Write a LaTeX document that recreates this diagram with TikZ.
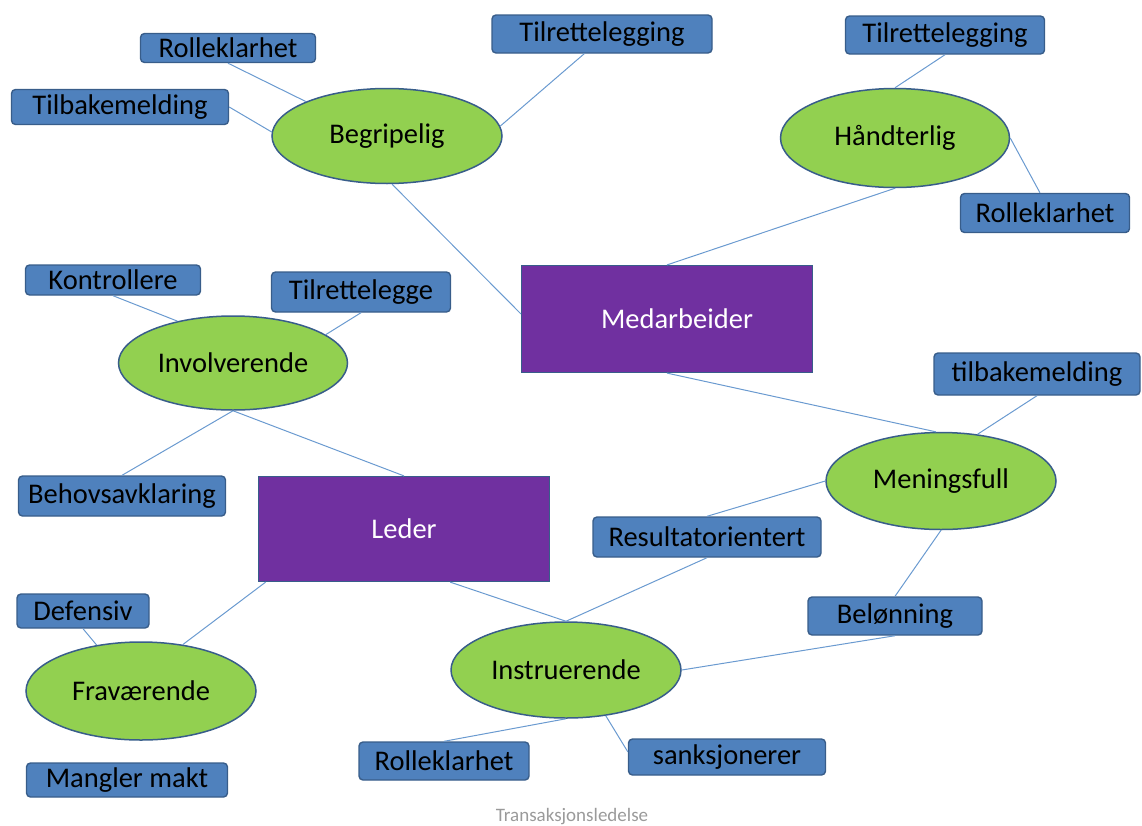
\documentclass[tikz,border=0pt]{standalone}
\usepackage{fontspec}
\setmainfont{Carlito}
\usetikzlibrary{shapes.geometric}
\definecolor{boxblue}{HTML}{4F81BD}
\definecolor{boxedge}{HTML}{385D8A}
\definecolor{leafgreen}{HTML}{92D050}
\definecolor{roleviolet}{HTML}{7030A0}
\definecolor{linkblue}{HTML}{6A9AD0}
\definecolor{captiongray}{HTML}{9A9A9A}
\tikzset{
  tag/.style={rectangle, rounded corners=4pt, fill=boxblue, draw=boxedge,
    line width=1.4pt, inner sep=0pt, text=black},
  quality/.style={ellipse, fill=leafgreen, draw=boxedge, line width=1.5pt,
    inner sep=0pt, text=black},
  role/.style={rectangle, fill=roleviolet, draw=boxedge, line width=1.2pt,
    inner sep=0pt, text=white},
  link/.style={draw=linkblue, line width=1pt},
}
\begin{document}
\begin{tikzpicture}[x=1pt, y=-1pt, font=\fontsize{28.5}{30}\selectfont]
\useasboundingbox (0,0) rectangle (1142,825);

% central roles
\node[role, minimum width=291, minimum height=107] (med) at (667,319) {\hspace*{20pt}Medarbeider};
\node[role, minimum width=291, minimum height=105] (led) at (404,529) {Leder};

% qualities
\node[quality, minimum width=230, minimum height=95] (beg) at (387,136) {Begripelig};
\node[quality, minimum width=229, minimum height=99] (han) at (895,138) {Håndterlig};
\node[quality, minimum width=229, minimum height=94] (inv) at (233,363) {Involverende};
\node[quality, minimum width=230, minimum height=97] (men) at (941,481) {Meningsfull};
\node[quality, minimum width=230, minimum height=98] (fra) at (141,691) {Fraværende};
\node[quality, minimum width=230, minimum height=96] (ins) at (566,670) {Instruerende};

% tags
\node[tag, minimum width=175, minimum height=29] (rk1) at (228,48) {Rolleklarhet};
\node[tag, minimum width=217, minimum height=35] (tb1) at (120,107) {Tilbakemelding};
\node[tag, minimum width=220, minimum height=38] (tr1) at (602,34) {Tilrettelegging};
\node[tag, minimum width=199, minimum height=38] (tr2) at (945,35) {Tilrettelegging};
\node[tag, minimum width=169, minimum height=39] (rk2) at (1045,213) {Rolleklarhet};
\node[tag, minimum width=175, minimum height=30] (kon) at (113,280) {Kontrollere};
\node[tag, minimum width=179, minimum height=40] (trg) at (361,292) {Tilrettelegge};
\node[tag, minimum width=207, minimum height=40] (beh) at (122,496) {Behovsavklaring};
\node[tag, minimum width=206, minimum height=42] (tb2) at (1037,374) {tilbakemelding};
\node[tag, minimum width=228, minimum height=40] (res) at (707,537) {Resultatorientert};
\node[tag, minimum width=174, minimum height=38] (bel) at (895,616) {Belønning};
\node[tag, minimum width=132, minimum height=34] (def) at (83,611) {Defensiv};
\node[tag, minimum width=170, minimum height=38] (rk3) at (444,761) {Rolleklarhet};
\node[tag, minimum width=197, minimum height=36] (san) at (727,757) {sanksjonerer};
\node[tag, minimum width=201, minimum height=34] (mm) at (127,780) {Mangler makt};

\node[text=captiongray, font=\fontsize{19}{20}\selectfont] (cap) at (572,817) {Transaksjonsledelse};

% connectors
\draw[link] (rk1.south) -- (beg.157);
\draw[link] (tb1.east) -- (beg.178);
\draw[link] (tr1.-132) -- (beg.5);
\draw[link] (beg.-84) -- (med.178);
\draw[link] (med.north) -- (han.south);
\draw[link] (tr2.south) -- (han.north);
\draw[link] (han.east) -- (rk2.104);
\draw[link] (med.south) -- (men.96);
\draw[link] (tb2.south) -- (men.52);
\draw[link] (men.west) -- (res.north);
\draw[link] (men.south) -- (bel.north);
\draw[link] (kon.south) -- (inv.143);
\draw[link] (trg.south) -- (inv.17);
\draw[link] (inv.south) -- (beh.north);
\draw[link] (inv.south) -- (led.north);
\draw[link] (led.-159) -- (fra.48);
\draw[link] (def.south) -- (fra.134);
\draw[link] (led.-49) -- (ins.north);
\draw[link] (res.south) -- (ins.north);
\draw[link] (ins.east) -- (bel.south);
\draw[link] (ins.south) -- (rk3.north);
\draw[link] (ins.-49) -- (san.177);
\end{tikzpicture}
\end{document}
